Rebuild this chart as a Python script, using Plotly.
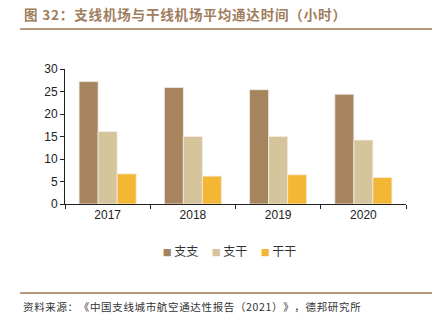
import plotly.graph_objects as go

years = ["2017", "2018", "2019", "2020"]
zhizhi = [27.2, 25.9, 25.4, 24.4]
zhigan = [16.1, 15.0, 15.0, 14.2]
gangan = [6.7, 6.2, 6.5, 5.9]
series_names = ["支支", "支干", "干干"]
colors = ["#A6845E", "#D5C49C", "#F4B735"]

font_cjk = "Noto Sans CJK SC"
fig = go.Figure()
for name, vals, c in zip(series_names, [zhizhi, zhigan, gangan], colors):
    fig.add_trace(go.Bar(x=years, y=vals, name=name, showlegend=False,
                         marker=dict(color=c, line=dict(color="#F3EEE6", width=0.8))))
# legend entries: coloured square glyph inside the label, invisible symbol
for name, c in zip(series_names, colors):
    fig.add_trace(go.Scatter(x=[None], y=[None], mode="markers",
                             name=f"<span style='color:{c};font-size:9px'>■</span>\u2009{name}",
                             marker=dict(symbol="square", size=1, color="rgba(0,0,0,0)")))
# empty spacer entry so the last label is not clipped
fig.add_trace(go.Scatter(x=[None], y=[None], mode="markers", name=" ",
                         marker=dict(symbol="square", size=1, color="rgba(0,0,0,0)")))


def spaced(s, sep="\u200a"):
    return sep.join(list(s))


fig.update_layout(
    width=445, height=323,
    margin=dict(l=65, r=39, t=69, b=119),
    paper_bgcolor="white", plot_bgcolor="white",
    barmode="group", bargap=0.33, bargroupgap=0,
    showlegend=True,
    legend=dict(orientation="h", x=0.457, xanchor="center", y=-0.35, yanchor="middle",
                font=dict(family=font_cjk, size=12, color="#333333"),
                entrywidth=4, entrywidthmode="pixels", itemwidth=30, tracegroupgap=0),
    font=dict(family="Liberation Sans, Arial", size=12, color="#222222"),
)
fig.update_xaxes(type="category", showline=True, linecolor="#222222", linewidth=1,
                 ticks="outside", tickson="boundaries", ticklen=4, tickcolor="#222222",
                 tickfont=dict(size=12, color="#222222"), showgrid=False)
fig.update_yaxes(range=[0, 30], dtick=5, showline=True, linecolor="#222222", linewidth=1,
                 ticks="outside", ticklen=4, tickcolor="#222222", showgrid=False,
                 zeroline=False, tickfont=dict(size=12, color="#222222"))

fig.add_annotation(xref="paper", yref="paper", x=(22 - 65) / 341, y=(204 - 14) / 135,
                   xanchor="left", yanchor="middle", showarrow=False,
                   text="<b>" + spaced("图 32：支线机场与干线机场平均通达时间（小时）") + "</b>",
                   font=dict(family=font_cjk, size=13.5, color="#A07D5C"))
fig.add_shape(type="line", xref="paper", yref="paper",
              x0=(20 - 65) / 341, x1=(432 - 65) / 341, y0=(204 - 29) / 135, y1=(204 - 29) / 135,
              line=dict(color="#B8987A", width=2))
fig.add_shape(type="line", xref="paper", yref="paper",
              x0=(20 - 65) / 341, x1=(432 - 65) / 341, y0=(204 - 293) / 135, y1=(204 - 293) / 135,
              line=dict(color="#B8987A", width=2))
fig.add_annotation(xref="paper", yref="paper", x=(21 - 65) / 341, y=(204 - 306) / 135,
                   xanchor="left", yanchor="middle", showarrow=False,
                   text=spaced("资料来源：《中国支线城市航空通达性报告（2021）》，德邦研究所"),
                   font=dict(family=font_cjk, size=10.5, color="#333333"))

fig.write_html("out.html")
